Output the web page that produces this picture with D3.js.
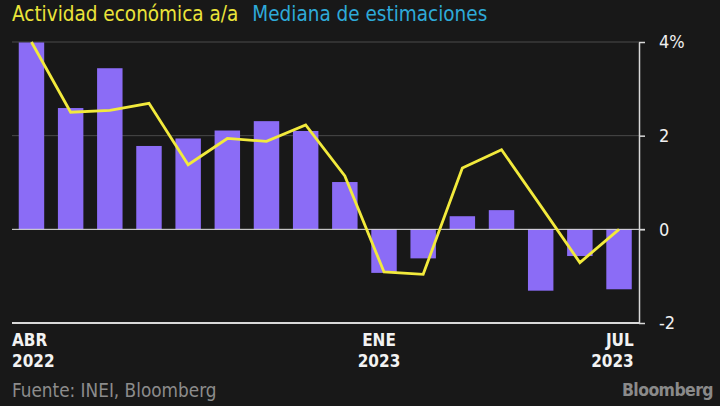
<!DOCTYPE html>
<html>
<head>
<meta charset="utf-8">
<script src="https://cdn.jsdelivr.net/npm/d3@7"></script>
<style>
  html, body { margin: 0; padding: 0; background: #181818; }
  svg { display: block; }
  text { font-family: "DejaVu Sans Condensed", "DejaVu Sans", sans-serif; }
</style>
</head>
<body>
<svg id="chart" width="720" height="406"></svg>
<script>
// ---- Data ----
const months = ["2022-04","2022-05","2022-06","2022-07","2022-08","2022-09","2022-10","2022-11","2022-12",
                "2023-01","2023-02","2023-03","2023-04","2023-05","2023-06","2023-07"];
const actividad = [3.99, 2.59, 3.44, 1.78, 1.94, 2.11, 2.31, 2.10, 1.01,
                   -0.93, -0.62, 0.28, 0.41, -1.31, -0.57, -1.28];
const mediana = [4.0, 2.50, 2.54, 2.69, 1.38, 1.94, 1.88, 2.23, 1.14,
                 -0.91, -0.96, 1.31, 1.70, 0.50, -0.71, 0.0];
const yTicks = [-2, 0, 2, 4];
const xLabels = [
  {month: "2022-04", l1: "ABR", l2: "2022", anchor: "start"},
  {month: "2023-01", l1: "ENE", l2: "2023", anchor: "middle"},
  {month: "2023-07", l1: "JUL", l2: "2023", anchor: "end"}
];
const legendItems = [
  {label: "Actividad económica a/a", color: "#ebe43a"},
  {label: "Mediana de estimaciones", color: "#2eaad8"}
];
const sourceText = "Fuente: INEI, Bloomberg";

// ---- Chart ----
const svg = d3.select("#chart");
svg.append("rect").attr("width", 720).attr("height", 406).attr("fill", "#181818");

const left = 12, right = 638.5, axisX = 639;
const x = d3.scaleBand().domain(months).range([left, right]).paddingInner(0.35).paddingOuter(0.172);
const y = d3.scaleLinear().domain([-2, 4]).range([323, 42]);

// gridlines
svg.append("g").selectAll("line").data(yTicks.filter(d => d > 0)).join("line")
  .attr("x1", left).attr("x2", axisX)
  .attr("y1", d => y(d)).attr("y2", d => y(d))
  .attr("stroke", "#4a4a4a").attr("stroke-width", 1);

// bars
svg.append("g").selectAll("rect").data(months).join("rect")
  .attr("x", d => x(d))
  .attr("width", x.bandwidth())
  .attr("y", (d, i) => y(Math.max(0, actividad[i])))
  .attr("height", (d, i) => Math.abs(y(actividad[i]) - y(0)))
  .attr("fill", "#8b6cf6");

// zero line
svg.append("line").attr("x1", left).attr("x2", axisX + 6)
  .attr("y1", y(0)).attr("y2", y(0))
  .attr("stroke", "#e6e6e6").attr("stroke-width", 1);

// bottom baseline
svg.append("line").attr("x1", left).attr("x2", axisX)
  .attr("y1", y(-2)).attr("y2", y(-2))
  .attr("stroke", "#d8d8d8").attr("stroke-width", 2);

// line
const line = d3.line().x((d, i) => x(months[i]) + x.bandwidth() / 2).y(d => y(d));
svg.append("path").datum(mediana)
  .attr("d", line)
  .attr("fill", "none").attr("stroke", "#f2ea3c").attr("stroke-width", 2.8)
  .attr("stroke-linejoin", "miter");

// right axis
const yAxis = d3.axisRight(y).tickValues(yTicks).tickSize(6).tickSizeOuter(0).tickPadding(14)
  .tickFormat(d => d === 4 ? "4%" : (d < 0 ? "-" + Math.abs(d) : String(d)));
const ag = svg.append("g").attr("transform", `translate(${axisX},0)`).call(yAxis);
ag.select(".domain").attr("stroke", "#d8d8d8").attr("stroke-width", 1.5);
ag.selectAll(".tick line").attr("stroke", "#d8d8d8").attr("stroke-width", 1.5);
ag.selectAll(".tick text").attr("fill", "#f0f0f0").attr("font-size", 18)
  .attr("font-family", "\"DejaVu Sans Condensed\", sans-serif");

// x labels
const xl = svg.append("g").selectAll("text").data(xLabels).join("text")
  .attr("x", d => d.anchor === "start" ? left : d.anchor === "end" ? x(d.month) + x.bandwidth() + 2 : x(d.month) + x.bandwidth() / 2 - 5)
  .attr("text-anchor", d => d.anchor)
  .attr("fill", "#f2f2f2").attr("font-size", 17).attr("font-weight", "bold");
xl.append("tspan").attr("x", function(d){ return d3.select(this.parentNode).attr("x"); }).attr("y", 346).text(d => d.l1);
xl.append("tspan").attr("x", function(d){ return d3.select(this.parentNode).attr("x"); }).attr("y", 367).text(d => d.l2);

// legend
const lg = svg.append("text").attr("x", left).attr("y", 21).attr("font-size", 20.5);
legendItems.forEach((it, i) => {
  lg.append("tspan").attr("fill", it.color).attr("dx", i === 0 ? 0 : 14).text(it.label);
});

// source
svg.append("text").attr("x", left).attr("y", 397).attr("font-size", 18.8)
  .attr("fill", "#8c8c8c").text(sourceText);
svg.append("text").attr("x", 713).attr("y", 396).attr("text-anchor", "end")
  .attr("font-size", 17.5).attr("font-weight", "bold").attr("fill", "#8a8a8a")
  .attr("font-family", "\"Liberation Sans\", Arial, sans-serif").attr("letter-spacing", -0.6)
  .text("Bloomberg");
</script>
</body>
</html>
